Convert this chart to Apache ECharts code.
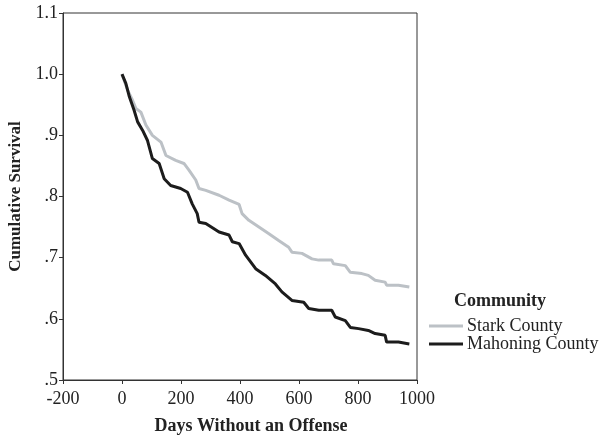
<!DOCTYPE html>
<html>
<head>
<meta charset="utf-8">
<script src="https://cdn.jsdelivr.net/npm/echarts@6/dist/echarts.min.js"></script>
<style>
html,body{margin:0;padding:0;background:#fff;}
#chart{width:616px;height:437px;}
</style>
</head>
<body>
<div id="chart"></div>
<script>
// 生存曲线数据 (天数, 累计生存率)
var seriesNames = ['Stark County', 'Mahoning County'];
var starkDays = [0, 19, 36, 47, 64, 81, 103, 132, 149, 182, 210, 227, 250, 261, 284, 329, 363, 397, 407, 430, 464, 498, 531, 565, 576, 610, 644, 667, 711, 717, 757, 774, 813, 835, 858, 892, 897, 937, 974];
var starkVals = [1.0, 0.974, 0.957, 0.944, 0.938, 0.917, 0.900, 0.889, 0.867, 0.859, 0.854, 0.843, 0.827, 0.813, 0.810, 0.802, 0.794, 0.787, 0.772, 0.761, 0.750, 0.739, 0.728, 0.717, 0.709, 0.707, 0.698, 0.696, 0.696, 0.690, 0.687, 0.676, 0.674, 0.671, 0.663, 0.660, 0.655, 0.655, 0.652];
var mahonDays = [0, 13, 25, 41, 53, 70, 86, 103, 126, 143, 165, 199, 222, 238, 255, 261, 284, 329, 363, 374, 397, 419, 453, 486, 520, 542, 576, 616, 633, 667, 711, 723, 757, 774, 802, 835, 858, 892, 897, 937, 974];
var mahonVals = [1.0, 0.985, 0.963, 0.941, 0.922, 0.908, 0.892, 0.862, 0.854, 0.829, 0.818, 0.813, 0.807, 0.788, 0.772, 0.758, 0.756, 0.742, 0.737, 0.726, 0.723, 0.704, 0.682, 0.671, 0.657, 0.644, 0.630, 0.627, 0.617, 0.614, 0.614, 0.603, 0.597, 0.586, 0.584, 0.581, 0.576, 0.573, 0.562, 0.562, 0.559];
var xTicks = [-200, 0, 200, 400, 600, 800, 1000];
var yTickLabels = ['.5', '.6', '.7', '.8', '.9', '1.0', '1.1'];

function pairs(xs, ys){
	var out = [];
	for(var i=0;i<xs.length;i++){
		out.push([xs[i], ys[i]]);
	}
	return out;
}

var font = 'Liberation Serif';
var myChart = echarts.init(document.getElementById('chart'));
var option = {
	animation: false,
	textStyle: {fontFamily: font},
	grid: {
		left: 63, right: 199, top: 13, bottom: 57,
		outerBoundsMode: 'none',
		show: true, borderColor: '#333', borderWidth: 1
	},
	legend: {
		orient: 'vertical',
		left: 424, top: 312,
		itemWidth: 34, itemHeight: 3, itemGap: 0,
		icon: 'rect',
		data: seriesNames,
		textStyle: {fontFamily: font, fontSize: 18, lineHeight: 16, color: '#222', padding: [0, 0, 0, -1]}
	},
	graphic: [{
		type: 'text', left: 454, top: 292,
		style: {text: 'Community', font: 'bold 18px "Liberation Serif"', fill: '#222'}
	}],
	xAxis: {
		type: 'value', min: xTicks[0], max: xTicks[xTicks.length-1], interval: 200,
		name: 'Days Without an Offense', nameLocation: 'middle', nameGap: 37,
		nameTextStyle: {fontFamily: font, fontSize: 18, fontWeight: 'bold', color: '#222', padding: [0, 0, 0, 22]},
		axisLine: {show: true, onZero: false, lineStyle: {color: '#333'}},
		axisTick: {show: true, length: 4, lineStyle: {color: '#333'}},
		axisLabel: {fontFamily: font, fontSize: 18, color: '#222', margin: 10,
			formatter: function(v){ return String(v); }},
		splitLine: {show: false}
	},
	yAxis: {
		type: 'value', min: 0.5, max: 1.1, interval: 0.1,
		name: 'Cumulative Survival', nameLocation: 'middle', nameGap: 38,
		nameTextStyle: {fontFamily: font, fontSize: 17, fontWeight: 'bold', color: '#222'},
		axisLine: {show: true, onZero: false, lineStyle: {color: '#333'}},
		axisTick: {show: true, length: 4, lineStyle: {color: '#333'}},
		axisLabel: {
			fontFamily: font, fontSize: 18, color: '#222', margin: 5,
			formatter: function(v){
				return yTickLabels[Math.round((v-0.5)*10)];
			}
		},
		splitLine: {show: false}
	},
	series: [
		{
			name: seriesNames[0], type: 'line', symbol: 'none',
			data: pairs(starkDays, starkVals),
			itemStyle: {color: '#bcc1c6'},
			lineStyle: {color: '#bcc1c6', width: 3}
		},
		{
			name: seriesNames[1], type: 'line', symbol: 'none',
			data: pairs(mahonDays, mahonVals),
			itemStyle: {color: '#1c1c1c'},
			lineStyle: {color: '#1c1c1c', width: 3}
		}
	]
};
myChart.setOption(option);
</script>
</body>
</html>
